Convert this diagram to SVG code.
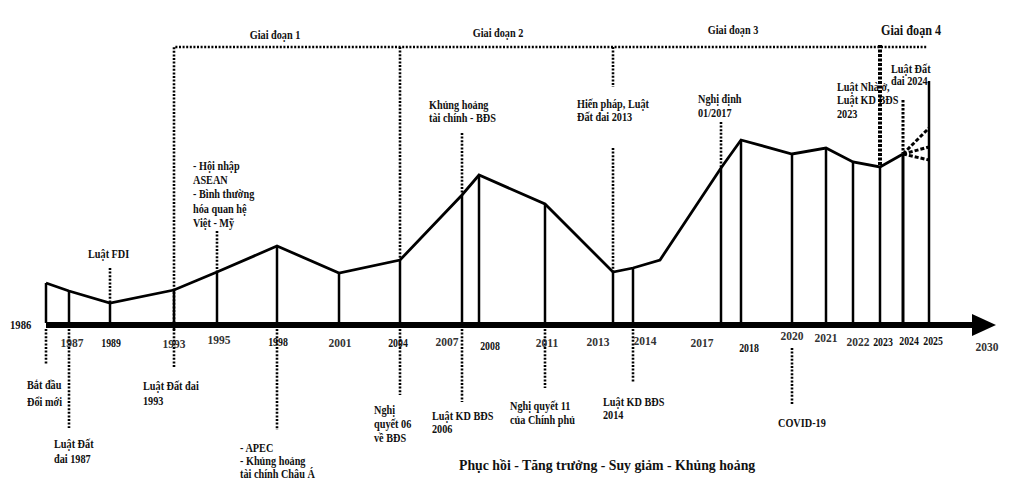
<svg xmlns="http://www.w3.org/2000/svg" width="1013" height="493" viewBox="0 0 1013 493">
<style>
text{font-family:"Liberation Serif","Times New Roman",serif;font-weight:bold;font-size:12.5px;fill:#111;transform-box:fill-box;transform-origin:0 100%;transform:scaleX(0.82)}
.yr{text-anchor:middle;font-size:12px;transform-origin:50% 100%}
.yl{text-anchor:middle;font-size:11.5px;fill:#333;transform:none}
.ph{text-anchor:middle;transform-origin:50% 100%}
.ph4{text-anchor:middle;font-size:14.5px;transform-origin:50% 100%;transform:scaleX(0.84)}
.big{font-size:15px;transform:scaleX(0.92)}
.v{stroke:#000;stroke-width:2.5;fill:none}
.d{stroke:#000;stroke-width:2.6;stroke-dasharray:2 1.6;fill:none}
.prof{stroke:#000;stroke-width:2.8;fill:none;stroke-linejoin:miter}
</style>
<rect width="1013" height="493" fill="#fff"/>
<g id="connectors">
  <polyline id="frame" class="d" points="174,330 174,47 927,47"/>
  <polyline id="profile" class="prof" points="46,283 69,291 110,303 174,290 217,272 277,246 339,273 400,260 462,195 479,175 545,204 613,272 633,268 660,260 721,168 741,140 792,154 826,148 853,162 880,167 903,154"/>
  <g id="axis">
    <line x1="46" y1="325" x2="974" y2="325" stroke="#000" stroke-width="6"/>
    <polygon points="972,314 996,325 972,336" fill="#000"/>
  </g>
  <g id="forecast" stroke="#000" stroke-width="3" stroke-dasharray="4 2" fill="none">
    <line x1="903" y1="154" x2="929" y2="128"/>
    <line x1="903" y1="154" x2="929" y2="147"/>
    <line x1="903" y1="154" x2="929" y2="160"/>
  </g>
</g>
<g id="phases">
  <text class="ph" x="275" y="39">Giai đoạn 1</text>
  <text class="ph" x="498" y="37">Giai đoạn 2</text>
  <text class="ph" x="733" y="34">Giai đoạn 3</text>
  <text class="ph4" x="911" y="35">Giai đoạn 4</text>
</g>
<g id="y1986">
  <line class="v" x1="46" y1="283" x2="46" y2="323"/>
  <line class="d" x1="46" y1="329" x2="46" y2="365"/>
  <text x="10" y="329" style="font-size:13px">1986</text>
  <text x="27" y="389">Bắt đầu</text>
  <text x="27" y="406">Đổi mới</text>
</g>
<g id="y1987">
  <line class="v" x1="69" y1="291" x2="69" y2="323"/>
  <line class="d" x1="69" y1="329" x2="69" y2="428"/>
  <text class="yl" x="72" y="347">1987</text>
  <text x="54" y="448">Luật Đất</text>
  <text x="54" y="463">đai 1987</text>
</g>
<g id="y1989">
  <line class="v" x1="110" y1="303" x2="110" y2="323"/>
  <line class="d" x1="110" y1="268" x2="110" y2="302"/>
  <text class="yr" x="111" y="347">1989</text>
  <text x="88" y="258">Luật FDI</text>
</g>
<g id="y1993">
  <line class="v" x1="174" y1="290" x2="174" y2="323"/>
  <line class="d" x1="174" y1="329" x2="174" y2="367"/>
  <text class="yl" x="174" y="348">1993</text>
  <text x="143" y="390">Luật Đất đai</text>
  <text x="143" y="405">1993</text>
</g>
<g id="y1995">
  <line class="v" x1="217" y1="272" x2="217" y2="323"/>
  <line class="d" x1="217" y1="231" x2="217" y2="271"/>
  <text class="yl" x="219" y="344">1995</text>
  <text x="193" y="170">- Hội nhập</text>
  <text x="193" y="184">ASEAN</text>
  <text x="193" y="198">- Bình thường</text>
  <text x="193" y="213">hóa quan hệ</text>
  <text x="193" y="227">Việt - Mỹ</text>
</g>
<g id="y1998">
  <line class="v" x1="277" y1="246" x2="277" y2="323"/>
  <line class="d" x1="277" y1="329" x2="277" y2="430"/>
  <text class="yr" x="278" y="346">1998</text>
  <text x="240" y="452">- APEC</text>
  <text x="240" y="465">- Khủng hoảng</text>
  <text x="240" y="478">tài chính Châu Á</text>
</g>
<g id="y2001">
  <line class="v" x1="339" y1="273" x2="339" y2="323"/>
  <text class="yl" x="340" y="347">2001</text>
</g>
<g id="y2004">
  <line class="v" x1="400" y1="260" x2="400" y2="323"/>
  <line class="d" x1="400" y1="47" x2="400" y2="259"/>
  <line class="d" x1="400" y1="329" x2="400" y2="395"/>
  <text class="yr" x="398" y="347">2004</text>
  <text x="374" y="414">Nghị</text>
  <text x="374" y="428">quyết 06</text>
  <text x="374" y="442">về BĐS</text>
</g>
<g id="y2007">
  <line class="v" x1="462" y1="195" x2="462" y2="323"/>
  <line class="d" x1="462" y1="133" x2="462" y2="194"/>
  <line class="d" x1="462" y1="329" x2="462" y2="402"/>
  <text class="yl" x="447" y="346">2007</text>
  <text x="432" y="420">Luật KD BĐS</text>
  <text x="432" y="433">2006</text>
  <text x="429" y="109">Khủng hoảng</text>
  <text x="429" y="122">tài chính - BĐS</text>
</g>
<g id="y2008">
  <line class="v" x1="479" y1="175" x2="479" y2="323"/>
  <text class="yr" x="490" y="350">2008</text>
</g>
<g id="y2011">
  <line class="v" x1="545" y1="204" x2="545" y2="323"/>
  <line class="d" x1="545" y1="329" x2="545" y2="388"/>
  <text class="yl" x="547" y="347">2011</text>
  <text x="510" y="410">Nghị quyết 11</text>
  <text x="510" y="424">của Chính phủ</text>
</g>
<g id="y2013">
  <line class="v" x1="613" y1="272" x2="613" y2="323"/>
  <line class="d" x1="613" y1="47" x2="613" y2="87"/>
  <line class="d" x1="613" y1="148" x2="613" y2="271"/>
  <text class="yl" x="598" y="346">2013</text>
  <text x="577" y="108">Hiến pháp, Luật</text>
  <text x="577" y="121">Đất đai 2013</text>
</g>
<g id="y2014">
  <line class="v" x1="633" y1="268" x2="633" y2="323"/>
  <line class="d" x1="633" y1="329" x2="633" y2="382"/>
  <text class="yl" x="645" y="345">2014</text>
  <text x="603" y="406">Luật KD BĐS</text>
  <text x="603" y="419">2014</text>
</g>
<g id="y2017">
  <line class="v" x1="721" y1="168" x2="721" y2="323"/>
  <line class="d" x1="721" y1="122" x2="721" y2="167"/>
  <text class="yl" x="702" y="347">2017</text>
  <text x="698" y="103">Nghị định</text>
  <text x="698" y="117">01/2017</text>
</g>
<g id="y2018">
  <line class="v" x1="741" y1="140" x2="741" y2="323"/>
  <text class="yr" x="749" y="352">2018</text>
</g>
<g id="y2020">
  <line class="v" x1="792" y1="154" x2="792" y2="323"/>
  <line class="d" x1="792" y1="348" x2="792" y2="405"/>
  <text class="yl" x="792" y="340">2020</text>
  <text x="778" y="427">COVID-19</text>
</g>
<g id="y2021">
  <line class="v" x1="826" y1="148" x2="826" y2="323"/>
  <text class="yl" x="826" y="342">2021</text>
</g>
<g id="y2022">
  <line class="v" x1="853" y1="162" x2="853" y2="323"/>
  <text class="yl" x="858" y="346">2022</text>
</g>
<g id="y2023">
  <text x="837" y="91">Luật Nhà ở,</text>
  <text x="837" y="104">Luật KD BĐS</text>
  <text x="837" y="118">2023</text>
  <line class="v" x1="880" y1="167" x2="880" y2="323"/>
  <line x1="880" y1="45" x2="880" y2="166" stroke="#000" stroke-width="4" stroke-dasharray="3 1.5"/>
  <text class="yr" x="883" y="346">2023</text>
</g>
<g id="y2024">
  <line class="v" x1="903" y1="154" x2="903" y2="323" style="stroke-width:3"/>
  <line x1="903" y1="100" x2="903" y2="153" stroke="#000" stroke-width="3" stroke-dasharray="2.5 1.5"/>
  <text class="yr" x="909" y="345">2024</text>
  <text x="891" y="73">Luật Đất</text>
  <text x="891" y="85">đai 2024</text>
</g>
<g id="y2025">
  <line class="v" x1="929" y1="81" x2="929" y2="323"/>
  <text class="yr" x="933" y="345">2025</text>
</g>
<g id="y2030">
  <text class="yl" x="987" y="351">2030</text>
</g>
<g id="caption">
  <text class="big" x="459" y="470">Phục hồi - Tăng trưởng - Suy giảm - Khủng hoảng</text>
</g>
</svg>
